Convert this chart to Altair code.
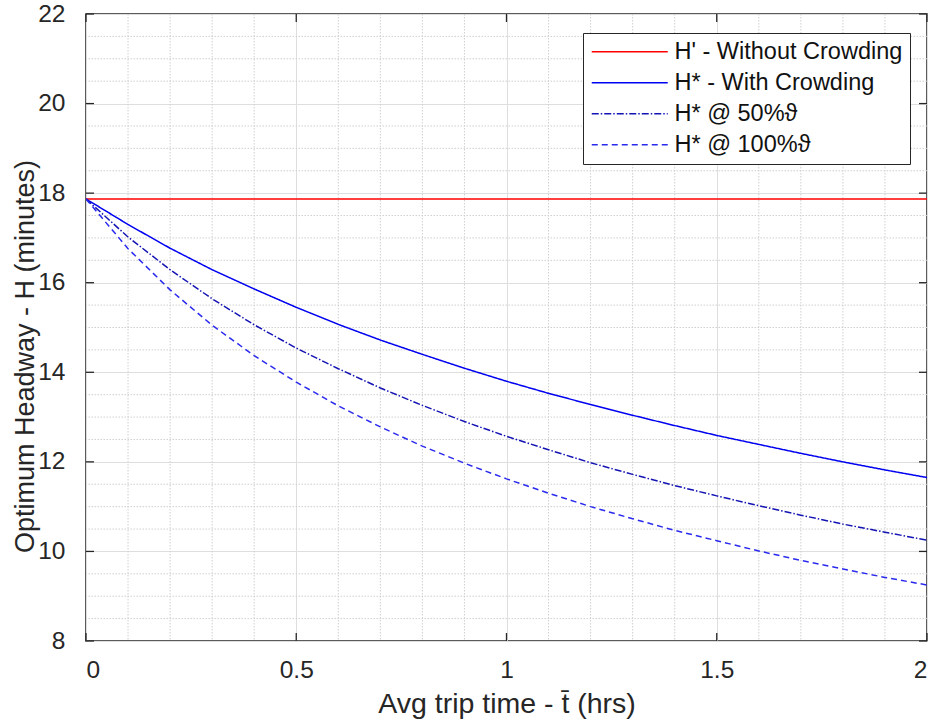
import altair as alt
import pandas as pd

# ---- data ----
t_vals = [0.0, 0.1, 0.2, 0.3, 0.4, 0.5, 0.6, 0.7, 0.8, 0.9, 1.0,
          1.1, 1.2, 1.3, 1.4, 1.5, 1.6, 1.7, 1.8, 1.9, 2.0]
h_without = [17.87] * len(t_vals)
h_with = [17.87, 17.30, 16.77, 16.29, 15.86, 15.45, 15.07, 14.72, 14.40, 14.09, 13.80,
          13.53, 13.28, 13.04, 12.81, 12.59, 12.39, 12.19, 12.00, 11.82, 11.65]
h_50 = [17.87, 17.02, 16.29, 15.64, 15.06, 14.54, 14.08, 13.65, 13.26, 12.90, 12.57,
        12.27, 11.98, 11.72, 11.47, 11.24, 11.02, 10.81, 10.61, 10.43, 10.25]
h_100 = [17.87, 16.76, 15.84, 15.05, 14.37, 13.78, 13.25, 12.78, 12.35, 11.97, 11.62,
         11.30, 11.00, 10.73, 10.47, 10.24, 10.01, 9.80, 9.61, 9.42, 9.25]

series_names = ["H' - Without Crowding", "H* - With Crowding", "H* @ 50%ϑ", "H* @ 100%ϑ"]
series_colors = ["#ff0000", "#0000f0", "#1414b4", "#2a2aee"]
series_dash = [[1, 0], [1, 0], [7, 2, 1.5, 2], [6, 4]]

x_major = [0, 0.5, 1, 1.5, 2]
y_major = [8, 10, 12, 14, 16, 18, 20, 22]
x_minor = [0.1, 0.2, 0.3, 0.4, 0.6, 0.7, 0.8, 0.9, 1.1, 1.2, 1.3, 1.4, 1.6, 1.7, 1.8, 1.9]
y_minor = [8.5, 9, 9.5, 10.5, 11, 11.5, 12.5, 13, 13.5, 14.5, 15, 15.5, 16.5, 17, 17.5,
           18.5, 19, 19.5, 20.5, 21, 21.5]

rows = []
for name, vals in zip(series_names, [h_without, h_with, h_50, h_100]):
    for t, h in zip(t_vals, vals):
        rows.append({"x": t, "y": h, "series": name})
df = pd.DataFrame(rows)

W, H = 841, 627
FONT = "Liberation Sans"
TXT = "#262626"

xs = alt.Scale(domain=[0, 2], nice=False, zero=False)
ys = alt.Scale(domain=[8, 22], nice=False, zero=False)

xaxis = alt.Axis(values=x_major, format="~g", title="Avg trip time - t\u0304 (hrs)",
                 labelPadding=17, titleY=71, titleBaseline="alphabetic",
                 titleFontSize=28.5)
yaxis = alt.Axis(values=y_major, format="~g", title="Optimum Headway - H (minutes)",
                 labelPadding=21, titleX=-53, titleY=342, titleAngle=270,
                 titleBaseline="alphabetic", titleFontSize=27)


def X():
    return alt.X("x:Q", scale=xs, axis=xaxis)


def Y():
    return alt.Y("y:Q", scale=ys, axis=yaxis)


minor_dash = [1.5, 1.5]
gx = alt.Chart(pd.DataFrame({"x": x_minor})).mark_rule(
    color="#cfcfcf", strokeWidth=1, strokeDash=minor_dash).encode(x=X())
gy = alt.Chart(pd.DataFrame({"y": y_minor})).mark_rule(
    color="#cfcfcf", strokeWidth=1, strokeDash=minor_dash).encode(y=Y())

lines = alt.Chart(df).mark_line(strokeWidth=1.5, clip=True).encode(
    x=X(),
    y=Y(),
    color=alt.Color("series:N", sort=series_names,
                    scale=alt.Scale(domain=series_names, range=series_colors),
                    legend=alt.Legend(title=None, orient="none", legendX=497, legendY=19,
                                      symbolType="M-1,0H6.6", symbolSize=400,
                                      symbolStrokeWidth=1.5,
                                      symbolFillColor="transparent",
                                      labelFontSize=23.5,
                                      labelFont=FONT, labelColor="#111111",
                                      labelOffset=61, rowPadding=6, padding=7,
                                      fillColor="white", strokeColor=TXT,
                                      labelLimit=400)),
    strokeDash=alt.StrokeDash("series:N", sort=series_names,
                              scale=alt.Scale(domain=series_names, range=series_dash),
                              legend=None),
)

tick_len = 8
tb = alt.Chart(pd.DataFrame({"x": x_major})).mark_rule(color=TXT, strokeWidth=1.3).encode(
    x=X(), y=alt.value(H), y2=alt.value(H - tick_len))
tt = alt.Chart(pd.DataFrame({"x": x_major})).mark_rule(color=TXT, strokeWidth=1.3).encode(
    x=X(), y=alt.value(0), y2=alt.value(tick_len))
tl = alt.Chart(pd.DataFrame({"y": y_major})).mark_rule(color=TXT, strokeWidth=1.3).encode(
    y=Y(), x=alt.value(0), x2=alt.value(tick_len))
tr = alt.Chart(pd.DataFrame({"y": y_major})).mark_rule(color=TXT, strokeWidth=1.3).encode(
    y=Y(), x=alt.value(W), x2=alt.value(W - tick_len))

chart = alt.layer(gx, gy, lines, tb, tt, tl, tr).properties(
    width=W, height=H,
    autosize=alt.AutoSizeParams(type="none"),
    padding={"left": 86, "top": 14, "right": 10, "bottom": 80},
    background="white",
).configure_view(
    stroke=TXT, strokeWidth=1.5
).configure_axis(
    domain=False, ticks=False, grid=True, gridColor="#dedede", gridWidth=1,
    labelFont=FONT, labelFontSize=24.5, labelColor=TXT,
    titleFont=FONT, titleFontWeight="normal", titleColor=TXT,
)

chart.save("out.html", embed_options={"renderer": "svg", "actions": False})
